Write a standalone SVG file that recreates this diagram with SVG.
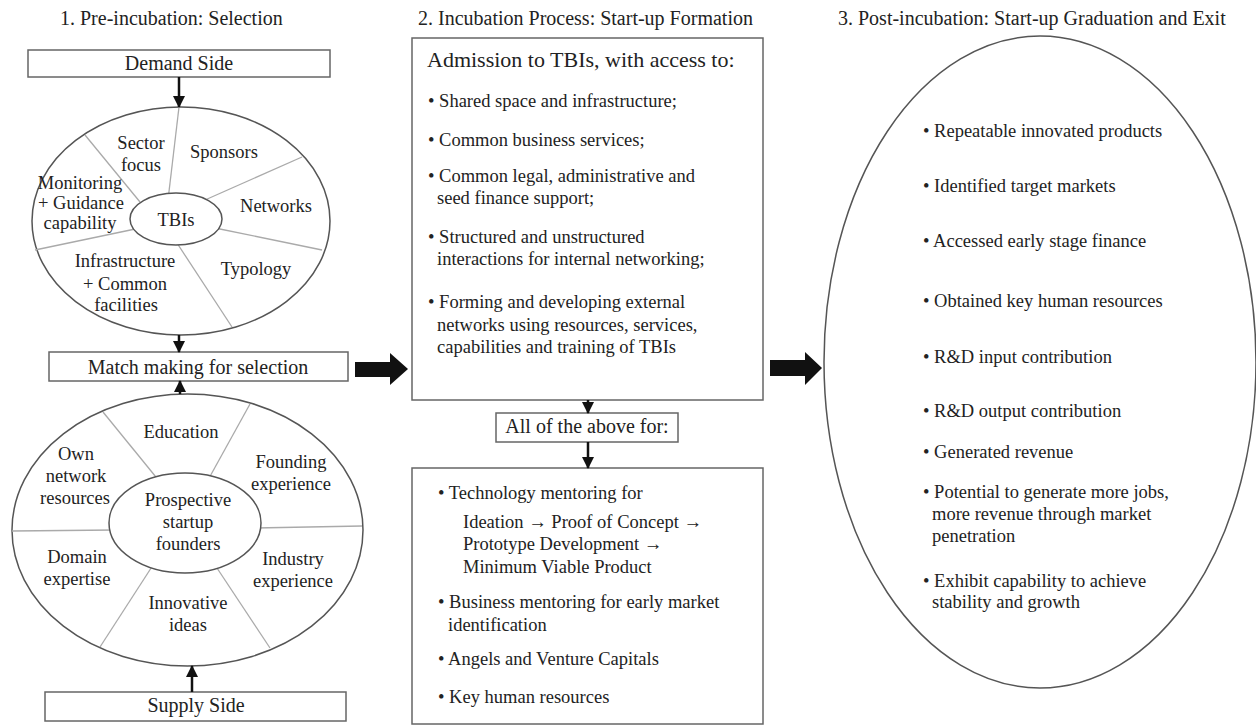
<svg xmlns="http://www.w3.org/2000/svg" width="1256" height="726" viewBox="0 0 1256 726">
  <style>
    text { font-family: "Liberation Serif", "Times New Roman", serif; fill: #222; }
    .title { font-size: 20px; }
    .lbl { font-size: 18.5px; text-anchor: middle; }
    .box-t { font-size: 20px; text-anchor: middle; }
    .bul { font-size: 18.5px; }
    .head { font-size: 22px; }
    .box { fill: #fff; stroke: #666; stroke-width: 1.5; }
    .oval { fill: #fff; stroke: #555; stroke-width: 1.5; }
    .spoke { stroke: #aaa; stroke-width: 1.3; fill: none; }
    .thin { stroke: #111; stroke-width: 2.5; fill: none; }
    .blk { fill: #111; }
  </style>
  <defs>
    <marker id="ah" markerUnits="userSpaceOnUse" markerWidth="12" markerHeight="12" viewBox="0 0 12 12" refX="11" refY="6" orient="auto">
      <path d="M0,0 L12,6 L0,12 Z" fill="#111"/>
    </marker>
  </defs>
  <rect width="1256" height="726" fill="#fff"/>

  <!-- column titles -->
  <text class="title" x="60" y="25">1. Pre-incubation: Selection</text>
  <text class="title" x="418" y="25">2. Incubation Process: Start-up Formation</text>
  <text class="title" x="838" y="25">3. Post-incubation: Start-up Graduation and Exit</text>

  <!-- stage 1 -->
  <g id="demand-side">
    <rect class="box" x="28" y="50" width="302" height="27"/>
    <text class="box-t" x="179" y="70">Demand Side</text>
  </g>

  <g id="tbi-wheel">
    <ellipse class="oval" cx="181" cy="221" rx="149" ry="114"/>
    <line class="spoke" x1="179" y1="107" x2="168" y2="200"/>
    <line class="spoke" x1="85" y1="135" x2="140" y2="202"/>
    <line class="spoke" x1="302" y1="157" x2="205" y2="200"/>
    <line class="spoke" x1="35" y1="250" x2="140" y2="228"/>
    <line class="spoke" x1="322" y1="250" x2="215" y2="228"/>
    <line class="spoke" x1="232" y1="327" x2="175" y2="240"/>
    <ellipse class="oval" cx="176" cy="219" rx="46" ry="26"/>
    <text class="lbl" x="176" y="226">TBIs</text>
    <text class="lbl" x="141" y="149">Sector</text>
    <text class="lbl" x="141" y="171">focus</text>
    <text class="lbl" x="224" y="158">Sponsors</text>
    <text class="lbl" x="80" y="189">Monitoring</text>
    <text class="lbl" x="81" y="209">+ Guidance</text>
    <text class="lbl" x="80" y="229">capability</text>
    <text class="lbl" x="276" y="212">Networks</text>
    <text class="lbl" x="125" y="267">Infrastructure</text>
    <text class="lbl" x="125" y="290">+ Common</text>
    <text class="lbl" x="126" y="311">facilities</text>
    <text class="lbl" x="256" y="275">Typology</text>
  </g>

  <g id="match-making">
    <rect class="box" x="49" y="352" width="299" height="29"/>
    <text class="box-t" x="198" y="374">Match making for selection</text>
  </g>

  <g id="founder-wheel">
    <ellipse class="oval" cx="187.5" cy="530" rx="175.5" ry="136"/>
    <line class="spoke" x1="103" y1="412" x2="160" y2="482"/>
    <line class="spoke" x1="250" y1="404" x2="208" y2="480"/>
    <line class="spoke" x1="255" y1="528" x2="362" y2="526"/>
    <line class="spoke" x1="12" y1="531" x2="115" y2="530"/>
    <line class="spoke" x1="100" y1="647" x2="155" y2="562"/>
    <line class="spoke" x1="213" y1="562" x2="270" y2="648"/>
    <ellipse class="oval" cx="185" cy="523" rx="76" ry="50"/>
    <text class="lbl" x="188" y="506">Prospective</text>
    <text class="lbl" x="188" y="528">startup</text>
    <text class="lbl" x="188" y="550">founders</text>
    <text class="lbl" x="181" y="438">Education</text>
    <text class="lbl" x="76" y="460">Own</text>
    <text class="lbl" x="76" y="482">network</text>
    <text class="lbl" x="75" y="504">resources</text>
    <text class="lbl" x="291" y="468">Founding</text>
    <text class="lbl" x="291" y="490">experience</text>
    <text class="lbl" x="77" y="563">Domain</text>
    <text class="lbl" x="77" y="585">expertise</text>
    <text class="lbl" x="293" y="565">Industry</text>
    <text class="lbl" x="293" y="587">experience</text>
    <text class="lbl" x="188" y="609">Innovative</text>
    <text class="lbl" x="188" y="631">ideas</text>
  </g>

  <g id="supply-side">
    <rect class="box" x="45" y="692" width="301" height="29"/>
    <text class="box-t" x="196" y="712">Supply Side</text>
  </g>

  <!-- stage 2 -->
  <g id="admission">
    <rect class="box" x="412" y="38" width="351" height="362"/>
    <text class="head" x="427" y="67">Admission to TBIs, with access to:</text>
    <text class="bul" x="428" y="107">• Shared space and infrastructure;</text>
    <text class="bul" x="428" y="146">• Common business services;</text>
    <text class="bul" x="428" y="182">• Common legal, administrative and</text>
    <text class="bul" x="437" y="204">seed finance support;</text>
    <text class="bul" x="428" y="243">• Structured and unstructured</text>
    <text class="bul" x="437" y="265">interactions for internal networking;</text>
    <text class="bul" x="428" y="308">• Forming and developing external</text>
    <text class="bul" x="437" y="331">networks using resources, services,</text>
    <text class="bul" x="437" y="353">capabilities and training of TBIs</text>
  </g>

  <g id="all-above">
    <rect class="box" x="496" y="413" width="182" height="29"/>
    <text class="box-t" x="587" y="433">All of the above for:</text>
  </g>

  <g id="support">
    <rect class="box" x="412" y="468" width="351" height="256"/>
    <text class="bul" x="438" y="499">• Technology mentoring for</text>
    <text class="bul" x="463" y="528">Ideation → Proof of Concept →</text>
    <text class="bul" x="463" y="550">Prototype Development →</text>
    <text class="bul" x="463" y="573">Minimum Viable Product</text>
    <text class="bul" x="438" y="608">• Business mentoring for early market</text>
    <text class="bul" x="448" y="631">identification</text>
    <text class="bul" x="438" y="665">• Angels and Venture Capitals</text>
    <text class="bul" x="438" y="703">• Key human resources</text>
  </g>

  <!-- stage 3 -->
  <g id="graduation">
    <ellipse class="oval" cx="1040" cy="362" rx="216" ry="326"/>
    <text class="bul" x="923" y="137">• Repeatable innovated products</text>
    <text class="bul" x="923" y="192">• Identified target markets</text>
    <text class="bul" x="923" y="247">• Accessed early stage finance</text>
    <text class="bul" x="923" y="307">• Obtained key human resources</text>
    <text class="bul" x="923" y="363">• R&amp;D input contribution</text>
    <text class="bul" x="923" y="417">• R&amp;D output contribution</text>
    <text class="bul" x="923" y="458">• Generated revenue</text>
    <text class="bul" x="923" y="498">• Potential to generate more jobs,</text>
    <text class="bul" x="932" y="520">more revenue through market</text>
    <text class="bul" x="932" y="542">penetration</text>
    <text class="bul" x="923" y="587">• Exhibit capability to achieve</text>
    <text class="bul" x="932" y="608">stability and growth</text>
  </g>

  <!-- connectors -->
  <g id="connectors">
    <line class="thin" x1="179" y1="77" x2="179" y2="107" marker-end="url(#ah)"/>
    <line class="thin" x1="179" y1="335" x2="179" y2="352" marker-end="url(#ah)"/>
    <line class="thin" x1="180" y1="394" x2="180" y2="381" marker-end="url(#ah)"/>
    <line class="thin" x1="192" y1="692" x2="192" y2="666" marker-end="url(#ah)"/>
    <line class="thin" x1="588" y1="400" x2="588" y2="413" marker-end="url(#ah)"/>
    <line class="thin" x1="588" y1="442" x2="588" y2="468" marker-end="url(#ah)"/>
    <polygon class="blk" points="355,362 390,362 390,353 408,369 390,385 390,377 355,377"/>
    <polygon class="blk" points="770,360 805,360 805,352 822,368 805,385 805,376 770,376"/>
  </g>
</svg>
